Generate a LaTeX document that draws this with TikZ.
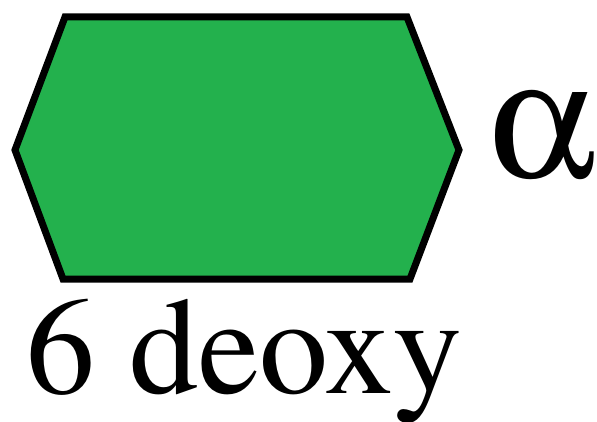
\documentclass[tikz,border=0pt]{standalone}
\usepackage[Symbol]{upgreek}
\usepackage{fontspec}
\setmainfont{texgyretermes-regular.otf}
\definecolor{hexgreen}{HTML}{23B14D}
\begin{document}
\begin{tikzpicture}[x=1pt,y=-1pt,
  hexa/.style={fill=hexgreen,draw=black,line width=7pt,line join=miter},
  lbl/.style={inner sep=0pt,anchor=base west}]
\useasboundingbox (0,0) rectangle (597,422);
\draw[hexa] (65,17) -- (407,17) -- (459,150) -- (410,279) -- (63,279) -- (15,150) -- cycle;
\node[lbl,font=\fontsize{170}{170}\selectfont] (alpha) at (488,178) {$\upalpha$};
\node[lbl,font=\fontsize{138}{138}\selectfont] (deoxy) at (26,393) {6 deoxy};
\end{tikzpicture}
\end{document}
